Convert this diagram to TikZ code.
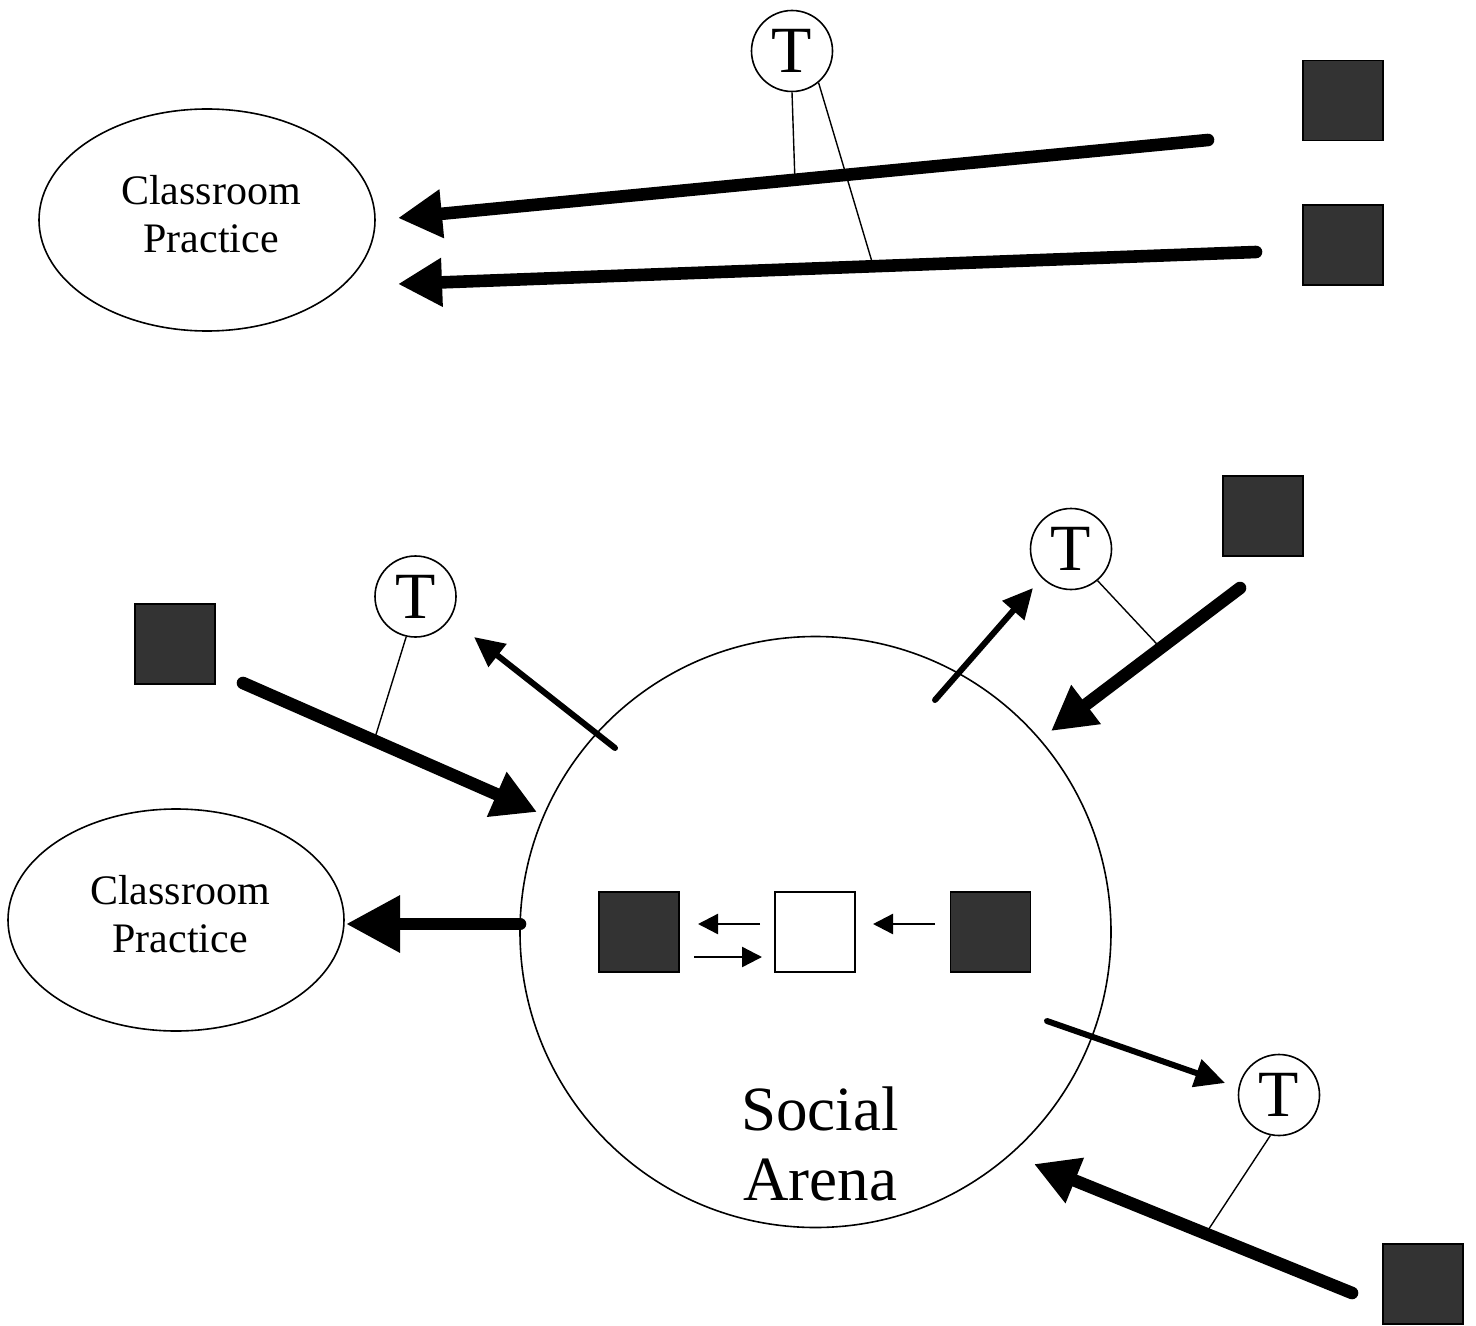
\documentclass[tikz,border=0pt]{standalone}
\usepackage{fontspec}
\setmainfont{Liberation Serif}
\usetikzlibrary{arrows.meta,shapes.geometric}
\definecolor{boxfill}{HTML}{333333}
\begin{document}
\begin{tikzpicture}[x=0.5pt,y=-0.5pt,
  darkbox/.style={draw=black,fill=boxfill,line width=0.8pt,minimum size=40pt,inner sep=0pt,outer sep=0pt},
  lightbox/.style={draw=black,fill=white,line width=0.8pt,minimum size=40pt,inner sep=0pt,outer sep=0pt},
  tcirc/.style={circle,draw=black,line width=0.8pt,minimum size=40.5pt,inner sep=0pt,font=\fontsize{33}{33}\selectfont},
  practice/.style={ellipse,draw=black,line width=0.8pt,minimum width=168pt,minimum height=111pt,inner sep=0pt},
  ptext/.style={align=center,font=\fontsize{21}{24}\selectfont,inner sep=0pt},
  arena/.style={circle,draw=black,line width=0.8pt,minimum size=295.5pt,inner sep=0pt},
  atext/.style={align=center,font=\fontsize{31.5}{35}\selectfont,inner sep=0pt},
  bigarr/.style={line width=6.3pt,line cap=round,-{Triangle[length=22pt,width=23pt]}},
  midarr/.style={line width=3pt,line cap=round,-{Triangle[length=15pt,width=14pt]}},
  smallarr/.style={line width=1.2pt,-{Triangle[length=10pt,width=10pt]}},
  tie/.style={line width=0.7pt}
]
\useasboundingbox (0,0) rectangle (1476,1326);

% ---------- top part ----------
\node[practice] (cp1) at (207,220) {};
\node[ptext] (cp1t) at (211,214) {Classroom\\Practice};
\node[tcirc] (t1) at (792,51) {T};
\node[darkbox] (s1) at (1343,100.5) {};
\node[darkbox] (s2) at (1343,245) {};

\coordinate (a1s) at (1208,140);
\coordinate (a1e) at (398,218);
\coordinate (a2s) at (1256,252);
\coordinate (a2e) at (398,284);
\path (a1s) -- coordinate[pos=0.51] (m1) (a1e);
\path (a2s) -- coordinate[pos=0.446] (m2) (a2e);

\draw[tie] (t1.south) -- (m1);
\draw[tie] (t1.-50) -- (m2);
\draw[bigarr] (a1s) -- (a1e);
\draw[bigarr] (a2s) -- (a2e);

% ---------- bottom part ----------
\node[arena] (sa) at (815.5,932) {};
\node[atext] (sat) at (820,1143.5) {Social\\Arena};
\node[practice] (cp2) at (176,920) {};
\node[ptext] (cp2t) at (180,914) {Classroom\\Practice};

\node[darkbox] (in1) at (639,932) {};
\node[lightbox] (in2) at (815,932) {};
\node[darkbox] (in3) at (990.5,932) {};

\coordinate (i1s) at (760,924); \coordinate (i1e) at (698,924);
\coordinate (i2s) at (694,957); \coordinate (i2e) at (762,957);
\coordinate (i3s) at (935,924); \coordinate (i3e) at (873,924);
\draw[smallarr] (i1s) -- (i1e);
\draw[smallarr] (i2s) -- (i2e);
\draw[smallarr] (i3s) -- (i3e);

\coordinate (cps) at (520,924); \coordinate (cpe) at (346,924);
\draw[line width=6.3pt,line cap=round,-{Triangle[length=27pt,width=27pt]}] (cps) -- (cpe);

% upper left
\node[darkbox] (s3) at (175,644) {};
\node[tcirc] (t2) at (415.5,596.5) {T};
\coordinate (b1s) at (243,683); \coordinate (b1e) at (537,812);
\path (b1s) -- coordinate[pos=0.446] (m3) (b1e);
\draw[tie] (t2.-103) -- (m3);
\draw[bigarr] (b1s) -- (b1e);
\coordinate (c1s) at (615,748); \coordinate (c1e) at (474,637);
\draw[midarr] (c1s) -- (c1e);

% upper right
\node[darkbox] (s4) at (1263,516) {};
\node[tcirc] (t3) at (1071,549) {T};
\coordinate (b2s) at (1240,588); \coordinate (b2e) at (1051,731);
\path (b2s) -- coordinate[pos=0.42] (m4) (b2e);
\draw[tie] (t3.-50) -- (m4);
\draw[bigarr] (b2s) -- (b2e);
\coordinate (c2s) at (935,700); \coordinate (c2e) at (1033,588);
\draw[midarr] (c2s) -- (c2e);

% lower right
\node[darkbox] (s5) at (1423,1284) {};
\node[tcirc] (t4) at (1279,1095) {T};
\coordinate (b3s) at (1352,1293); \coordinate (b3e) at (1034,1164);
\path (b3s) -- coordinate[pos=0.46] (m5) (b3e);
\draw[tie] (t4.-102) -- (m5);
\draw[bigarr] (b3s) -- (b3e);
\coordinate (c3s) at (1047,1021); \coordinate (c3e) at (1225,1083);
\draw[midarr] (c3s) -- (c3e);
\end{tikzpicture}
\end{document}
